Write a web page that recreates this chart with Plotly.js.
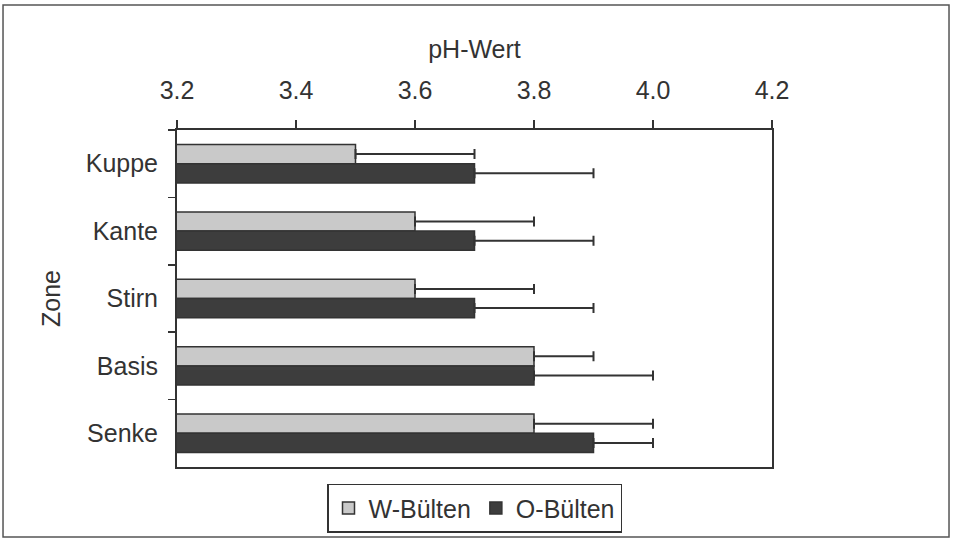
<!DOCTYPE html>
<html>
<head>
<meta charset="utf-8">
<script src="https://cdn.plot.ly/plotly-3.0.1.min.js"></script>
<style>html,body{margin:0;padding:0;background:#fff;}#chart{width:954px;height:540px;}</style>
</head>
<body>
<div id="chart"></div>
<script>
const zones = ["Kuppe", "Kante", "Stirn", "Basis", "Senke"];
const wValues = [3.5, 3.6, 3.6, 3.8, 3.8];
const wErrors = [0.2, 0.2, 0.2, 0.1, 0.2];
const oValues = [3.7, 3.7, 3.7, 3.8, 3.9];
const oErrors = [0.2, 0.2, 0.2, 0.2, 0.1];
const xTicks = [3.2, 3.4, 3.6, 3.8, 4.0, 4.2];
const seriesNames = ["W-Bülten", "O-Bülten"];

const FONT = "Liberation Sans, Arial, Helvetica, sans-serif";
const FS = 25;
const ink = "#333333";

const traces = [
  {
    type: "bar", orientation: "h", name: seriesNames[0],
    y: zones, x: wValues,
    marker: {color: "#c9c9c9", line: {color: ink, width: 1.5}},
    error_x: {type: "data", symmetric: false, array: wErrors, arrayminus: wErrors.map(() => 0),
              color: ink, thickness: 2, width: 5}
  },
  {
    type: "bar", orientation: "h", name: seriesNames[1],
    y: zones, x: oValues,
    marker: {color: "#3d3d3d", line: {color: ink, width: 1.5}},
    error_x: {type: "data", symmetric: false, array: oErrors, arrayminus: oErrors.map(() => 0),
              color: ink, thickness: 2, width: 5}
  }
];

const layout = {
  width: 954, height: 540,
  margin: {l: 177, r: 182, t: 130, b: 73, autoexpand: false},
  paper_bgcolor: "#ffffff", plot_bgcolor: "#ffffff",
  font: {family: FONT, size: FS, color: ink},
  barmode: "group", bargap: 0.43, bargroupgap: 0,
  showlegend: true,
  legend: {orientation: "h", x: 0.5, xanchor: "center", y: -0.05, yanchor: "top",
           bordercolor: ink, borderwidth: 1.5, font: {family: FONT, size: FS, color: ink},
           itemwidth: 30, tracegroupgap: 0},
  xaxis: {
    side: "top", range: [3.2, 4.2], tickvals: xTicks, ticktext: xTicks.map(v => v.toFixed(1)),
    ticks: "outside", ticklen: 8, tickwidth: 1.5, tickcolor: ink,
    showline: true, linecolor: ink, linewidth: 2, mirror: true, automargin: false,
    showgrid: false, zeroline: false, ticklabelstandoff: 11,
    tickfont: {family: FONT, size: FS, color: ink},
    title: {text: "pH-Wert", font: {family: FONT, size: FS, color: ink}, standoff: 10}
  },
  yaxis: {
    type: "category", categoryorder: "array", categoryarray: zones, autorange: "reversed",
    ticks: "outside", ticklen: 7, tickwidth: 1.5, tickcolor: ink, tickson: "boundaries",
    showline: true, linecolor: ink, linewidth: 2, mirror: true, automargin: false,
    showgrid: false, zeroline: false, ticklabelstandoff: 12,
    tickfont: {family: FONT, size: FS, color: ink},
    title: {text: "Zone", font: {family: FONT, size: FS, color: ink}, standoff: 18}
  },
  shapes: [{
    type: "rect", xref: "paper", yref: "paper",
    x0: -0.2924, x1: 1.2975, y0: -0.2077, y1: 1.371,
    line: {color: "#555555", width: 1.5}, fillcolor: "rgba(0,0,0,0)", layer: "below"
  }]
};

Plotly.newPlot("chart", traces, layout, {displayModeBar: false, staticPlot: true});
</script>
</body>
</html>
